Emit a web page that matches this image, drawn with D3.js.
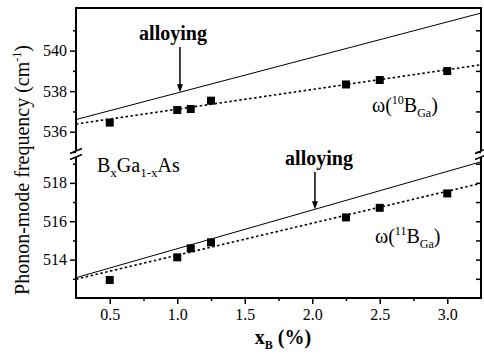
<!DOCTYPE html>
<html>
<head>
<meta charset="utf-8">
<script src="https://cdn.jsdelivr.net/npm/d3@7"></script>
<style>
  body { margin: 0; background: #fff; }
  svg { display: block; }
  text { font-family: "Liberation Serif", "Times New Roman", "DejaVu Serif", serif; fill: #000; }
</style>
</head>
<body>
<svg id="chart" width="484" height="356"></svg>
<script>
'use strict';

// boron content x_B (%) of the measured samples
var xB = [0.5, 1.0, 1.1, 1.25, 2.25, 2.5, 3.0];

// omega(10B_Ga) and omega(11B_Ga) local-mode frequencies (cm^-1)
var omega10 = [536.45, 537.07, 537.12, 537.53, 538.33, 538.55, 538.99];
var omega11 = [512.94, 514.12, 514.59, 514.90, 516.20, 516.70, 517.45];

// straight lines over the full x range: [x, y] end points
var alloy10 = [[0.25, 536.6], [3.25, 541.85]];
var fit10 = [[0.25, 536.38], [3.25, 539.3]];
var alloy11 = [[0.25, 513.06], [3.25, 519.1]];
var fit11 = [[0.25, 512.98], [3.25, 517.98]];

var xTicks = [0.5, 1.0, 1.5, 2.0, 2.5, 3.0];
var xMinor = [0.75, 1.25, 1.75, 2.25, 2.75];
var upTicks = [536, 538, 540];
var upMinor = [535, 537, 539, 541];
var loTicks = [514, 516, 518];
var loMinor = [513, 515, 517, 519];

var svg = d3.select('#chart');

var plotLeft = 76, plotRight = 481, plotTop = 8, plotBottom = 298;
var upBottom = 152, loTop = 156;

var x = d3.scaleLinear().domain([0.25, 3.25]).range([plotLeft, plotRight]);
var yUp = d3.scaleLinear().domain([535, 542.1]).range([upBottom, plotTop]);
var yLo = d3.scaleLinear().domain([512, 519.4]).range([plotBottom, loTop]);

function drawPanel(y, pts, alloy, fit, clipId, y0, y1) {
    svg.append('clipPath').attr('id', clipId)
        .append('rect')
        .attr('x', plotLeft).attr('y', y0)
        .attr('width', plotRight - plotLeft).attr('height', y1 - y0);

    var g = svg.append('g').attr('clip-path', 'url(#' + clipId + ')');
    var line = d3.line()
        .x(function(d) { return x(d[0]); })
        .y(function(d) { return y(d[1]); });

    g.append('path').datum(alloy)
        .attr('d', line)
        .attr('fill', 'none')
        .attr('stroke', '#000')
        .attr('stroke-width', 1);

    g.append('path').datum(fit)
        .attr('d', line)
        .attr('fill', 'none')
        .attr('stroke', '#000')
        .attr('stroke-width', 1.6)
        .attr('stroke-dasharray', '2.5,2.5');

    g.selectAll('rect.pt').data(pts).enter()
        .append('rect')
        .attr('class', 'pt')
        .attr('x', function(d) { return x(d[0]) - 4; })
        .attr('y', function(d) { return y(d[1]) - 4; })
        .attr('width', 8)
        .attr('height', 8)
        .attr('fill', '#000');
}

drawPanel(yUp, d3.zip(xB, omega10), alloy10, fit10, 'clipUp', plotTop, upBottom);
drawPanel(yLo, d3.zip(xB, omega11), alloy11, fit11, 'clipLo', loTop, plotBottom);

// axes
function styleAxis(g) {
    g.select('.domain').remove();
    g.selectAll('line').attr('stroke', '#000').attr('stroke-width', 1.5);
    g.selectAll('text')
        .style('font-family', '"Liberation Serif", "Times New Roman", serif')
        .style('font-size', '16px')
        .attr('fill', '#000');
}

function yAxes(y, major, minor) {
    svg.append('g')
        .attr('transform', 'translate(' + plotLeft + ',0)')
        .call(d3.axisLeft(y).tickValues(major).tickSize(6).tickPadding(3)
            .tickFormat(d3.format('d')))
        .call(styleAxis);
    svg.append('g')
        .attr('transform', 'translate(' + plotLeft + ',0)')
        .call(d3.axisLeft(y).tickValues(minor).tickSize(3).tickFormat(''))
        .call(styleAxis);
    svg.append('g')
        .attr('transform', 'translate(' + plotRight + ',0)')
        .call(d3.axisRight(y).tickValues(major.concat(minor)).tickSize(-5).tickFormat(''))
        .call(styleAxis);
}

yAxes(yUp, upTicks, upMinor);
yAxes(yLo, loTicks, loMinor);

svg.append('g')
    .attr('transform', 'translate(0,' + plotBottom + ')')
    .call(d3.axisBottom(x).tickValues(xTicks).tickSize(6).tickPadding(5)
        .tickFormat(d3.format('.1f')))
    .call(styleAxis);
svg.append('g')
    .attr('transform', 'translate(0,' + plotBottom + ')')
    .call(d3.axisBottom(x).tickValues(xMinor).tickSize(3).tickFormat(''))
    .call(styleAxis);

// frame with the axis break
var frame = svg.append('g')
    .attr('fill', 'none')
    .attr('stroke', '#000')
    .attr('stroke-width', 2);

frame.append('path')
    .attr('d', 'M' + plotLeft + ',' + (upBottom - 1) + 'V' + plotTop + 'H' + plotRight + 'V' + (upBottom - 1));
frame.append('path')
    .attr('d', 'M' + plotLeft + ',' + (loTop + 1) + 'V' + plotBottom + 'H' + plotRight + 'V' + (loTop + 1));

[plotLeft, plotRight].forEach(function(px) {
    [upBottom - 1, loTop + 1].forEach(function(py) {
        frame.append('line')
            .attr('x1', px - 6).attr('y1', py + 2.5)
            .attr('x2', px + 6).attr('y2', py - 2.5)
            .attr('stroke-width', 1.5);
    });
});

// annotations
function arrow(xv, yStart, yTip) {
    var px = x(xv);
    svg.append('line')
        .attr('x1', px).attr('y1', yStart)
        .attr('x2', px).attr('y2', yTip - 6)
        .attr('stroke', '#000').attr('stroke-width', 1.5);
    svg.append('path')
        .attr('d', 'M' + (px - 3) + ',' + (yTip - 8) + 'L' + px + ',' + yTip +
            'L' + (px + 3) + ',' + (yTip - 8) + 'Z')
        .attr('fill', '#000');
}

svg.append('text')
    .attr('x', 173).attr('y', 40)
    .attr('text-anchor', 'middle')
    .style('font-size', '20px')
    .style('font-weight', 'bold')
    .text('alloying');
arrow(1.02, 47, yUp(536.6 + 1.75 * 0.77));

svg.append('text')
    .attr('x', 319).attr('y', 165)
    .attr('text-anchor', 'middle')
    .style('font-size', '20px')
    .style('font-weight', 'bold')
    .text('alloying');
arrow(2.02, 172, yLo(513.06 + 2.013 * 1.77));

function isotopeLabel(px, py, mass) {
    var t = svg.append('text')
        .attr('x', px).attr('y', py)
        .style('font-size', '20px');
    t.append('tspan').text('\u03c9(');
    t.append('tspan').attr('dy', -8).style('font-size', '12px').text(mass);
    t.append('tspan').attr('dy', 8).text('B');
    t.append('tspan').attr('dy', 5).style('font-size', '12px').text('Ga');
    t.append('tspan').attr('dy', -5).text(')');
}

isotopeLabel(372, 112, '10');
isotopeLabel(375, 243, '11');

var alloyName = svg.append('text')
    .attr('x', 97).attr('y', 172)
    .style('font-size', '20px');
alloyName.append('tspan').text('B');
alloyName.append('tspan').attr('dy', 5).style('font-size', '13px').text('x');
alloyName.append('tspan').attr('dy', -5).text('Ga');
alloyName.append('tspan').attr('dy', 5).style('font-size', '13px').text('1-x');
alloyName.append('tspan').attr('dy', -5).text('As');

// axis titles
var yTitle = svg.append('text')
    .attr('transform', 'translate(29,170) rotate(-90)')
    .attr('text-anchor', 'middle')
    .style('font-size', '20px');
yTitle.append('tspan').text('Phonon-mode frequency (cm');
yTitle.append('tspan').attr('dy', -8).style('font-size', '12px').text('-1');
yTitle.append('tspan').attr('dy', 8).text(')');

var xTitle = svg.append('text')
    .attr('x', 283).attr('y', 344)
    .attr('text-anchor', 'middle')
    .style('font-size', '20px')
    .style('font-weight', 'bold');
xTitle.append('tspan').text('x');
xTitle.append('tspan').attr('dy', 5).style('font-size', '12px').text('B');
xTitle.append('tspan').attr('dy', -5).text(' (%)');
</script>
</body>
</html>
